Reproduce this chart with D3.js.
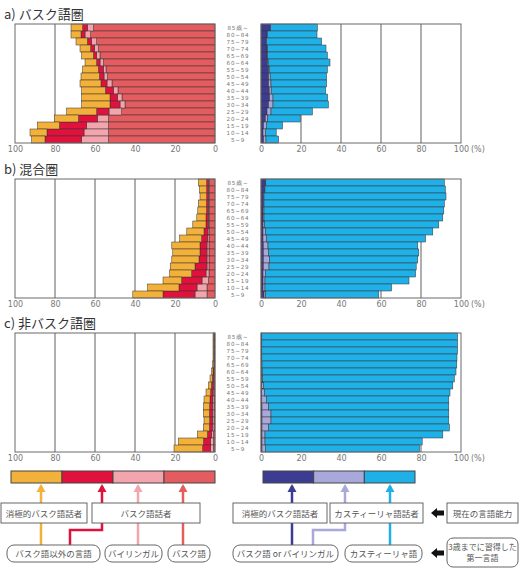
<!DOCTYPE html>
<html>
<head>
<meta charset="utf-8">
<script src="https://cdnjs.cloudflare.com/ajax/libs/d3/7.8.5/d3.min.js"></script>
<style>
  body { margin: 0; background: #fff; }
  svg { font-family: "Noto Sans CJK JP", "Noto Sans", sans-serif; }
</style>
</head>
<body>
<div id="chart"></div>
<script>
// age groups, top row first
var ages = ["85歳~", "80~84", "75~79", "70~74", "65~69", "60~64", "55~59", "50~54",
  "45~49", "40~44", "35~39", "30~34", "25~29", "20~24", "15~19", "10~14", "5~9"];

var titles = ["a) バスク語圏", "b) 混合圏", "c) 非バスク語圏"];

// left side (%), segments from 0 outwards: basque, bilingual, other language, passive
var aBasque    = [60.8, 62.2, 59.2, 58.3, 57.5, 55.8, 54.5, 53.8, 51.5, 48.5, 46.5, 45.0, 46.7, 53.3, 53.3, 53.3, 53.3];
var aBilingual = [3.0, 2.8, 2.5, 2.0, 1.7, 1.7, 1.3, 1.7, 2.5, 2.3, 2.3, 2.5, 6.3, 5.5, 10.9, 12.2, 13.4];
var aOther     = [2.4, 2.0, 2.1, 1.9, 1.6, 1.7, 2.5, 2.3, 3.0, 4.0, 3.7, 5.0, 6.2, 9.5, 13.6, 18.5, 18.3];
var aPassive   = [5.8, 5.0, 5.7, 5.3, 5.9, 5.8, 7.9, 9.2, 10.5, 11.9, 14.2, 14.2, 15.0, 12.0, 11.0, 8.5, 6.7];

var bBasque    = [2.8, 2.8, 2.8, 2.8, 2.8, 2.8, 2.8, 2.8, 3.0, 3.0, 3.0, 3.0, 3.0, 3.0, 3.3, 4.0, 4.0];
var bBilingual = [0.5, 0.5, 0.5, 0.5, 0.5, 0.5, 0.5, 0.7, 0.7, 1.0, 1.0, 1.0, 1.0, 1.5, 3.2, 5.0, 6.0];
var bOther     = [0.9, 0.9, 0.9, 1.0, 1.0, 1.2, 1.2, 2.0, 3.0, 3.5, 3.5, 4.0, 6.0, 7.2, 10.2, 9.0, 16.0];
var bPassive   = [4.1, 3.6, 3.3, 4.0, 4.3, 4.6, 6.6, 8.6, 11.0, 14.1, 13.6, 13.6, 12.4, 11.0, 9.3, 15.7, 15.1];

var cBasque    = [0.3, 0.3, 0.3, 0.3, 0.3, 0.4, 0.4, 0.5, 0.5, 0.5, 0.5, 0.5, 0.5, 0.5, 0.8, 0.8, 0.8];
var cBilingual = [0.1, 0.1, 0.1, 0.1, 0.1, 0.2, 0.3, 0.4, 0.5, 0.7, 0.8, 0.8, 0.8, 0.8, 0.9, 1.4, 1.4];
var cOther     = [0.2, 0.2, 0.2, 0.2, 0.2, 0.4, 0.6, 0.9, 1.2, 1.3, 1.4, 1.5, 1.4, 1.5, 2.1, 3.6, 4.0];
var cPassive   = [0.4, 0.4, 0.4, 0.4, 0.6, 0.7, 1.2, 1.5, 2.3, 3.0, 3.1, 3.0, 2.8, 3.0, 5.0, 12.5, 14.3];

// right side (%): passive speaker (basque/bilingual 1st), castilian speaker (basque/bilingual 1st), castilian
var aPassiveBq = [4.6, 3.0, 2.6, 3.0, 3.0, 3.3, 3.8, 3.8, 3.8, 4.1, 4.3, 3.8, 3.0, 2.2, 1.3, 1.0, 1.3];
var aCastBq    = [0.2, 0.2, 0.2, 0.3, 0.3, 0.3, 0.3, 0.8, 1.2, 1.0, 1.7, 2.2, 2.0, 1.1, 1.4, 1.2, 1.2];
var aCastilian = [23.4, 24.8, 27.5, 29.2, 29.9, 30.9, 29.1, 28.2, 27.8, 27.2, 27.3, 27.7, 20.7, 16.3, 8.1, 5.4, 6.3];

var bPassiveBq = [2.2, 1.8, 1.2, 1.2, 1.0, 1.0, 1.0, 1.0, 1.0, 1.2, 1.2, 1.2, 1.2, 1.0, 1.0, 1.0, 1.5];
var bCastBq    = [0.2, 0.2, 0.3, 0.3, 0.5, 0.5, 0.8, 1.2, 1.8, 2.3, 2.6, 3.1, 2.8, 1.2, 1.0, 1.0, 0.8];
var bCastilian = [89.3, 90.2, 91.0, 90.2, 89.9, 89.4, 87.1, 83.7, 79.5, 74.9, 75.1, 74.1, 73.6, 75.1, 72.0, 63.3, 56.6];

var cPassiveBq = [0.3, 0.3, 0.3, 0.3, 0.3, 0.3, 0.3, 0.4, 0.4, 0.4, 0.5, 0.5, 0.5, 0.5, 0.5, 0.5, 0.5];
var cCastBq    = [0.1, 0.1, 0.1, 0.1, 0.2, 0.3, 0.5, 0.8, 1.3, 2.3, 3.3, 4.5, 4.5, 3.3, 1.5, 1.5, 1.7];
var cCastilian = [97.9, 97.9, 97.9, 97.6, 97.4, 96.9, 95.9, 94.7, 92.8, 91.2, 90.1, 88.9, 88.9, 90.4, 88.9, 78.6, 77.1];

var tickVals = [0, 20, 40, 60, 80, 100];

var leftKeys = ["basque", "bilingual", "other", "passive"];
var rightKeys = ["passiveBq", "castBq", "castilian"];

var colors = {
  passive: "#f2b13a",
  other: "#e0123d",
  bilingual: "#f2a5ad",
  basque: "#e35c5f",
  passiveBq: "#3d3c93",
  castBq: "#a9a8db",
  castilian: "#1fb0e8"
};

var leftData = [
  [aBasque, aBilingual, aOther, aPassive],
  [bBasque, bBilingual, bOther, bPassive],
  [cBasque, cBilingual, cOther, cPassive]
];
var rightData = [
  [aPassiveBq, aCastBq, aCastilian],
  [bPassiveBq, bCastBq, bCastilian],
  [cPassiveBq, cCastBq, cCastilian]
];

var svgWidth = 521;
var svgHeight = 570;

var svg = d3.select("#chart").append("svg")
  .attr("width", svgWidth)
  .attr("height", svgHeight);

// scales
var xLeft = d3.scaleLinear().domain([0, 100]).range([215, 15]);
var xRight = d3.scaleLinear().domain([0, 100]).range([261, 461]);

var panelTops = [24, 179, 333];
var panelH = 119;

function toRows(arrays, keys) {
  return ages.map(function(age, i) {
    var row = { age: age };
    keys.forEach(function(k, j) { row[k] = arrays[j][i]; });
    return row;
  });
}

function drawSide(g, x, y, arrays, keys, isLeft) {
  var top = y.range()[0];
  var bottom = y.range()[1];

  // grid lines
  g.append("g").selectAll("line")
    .data([20, 40, 60, 80])
    .enter()
    .append("line")
    .attr("x1", d => x(d))
    .attr("x2", d => x(d))
    .attr("y1", top)
    .attr("y2", bottom)
    .attr("stroke", "#7a7a7a")
    .attr("stroke-width", 1.2);

  var series = d3.stack().keys(keys)(toRows(arrays, keys));

  g.append("g").selectAll("g")
    .data(series)
    .enter()
    .append("g")
    .attr("fill", d => colors[d.key])
    .selectAll("rect")
    .data(d => d)
    .enter()
    .append("rect")
    .attr("x", d => Math.min(x(d[0]), x(d[1])))
    .attr("width", d => Math.abs(x(d[1]) - x(d[0])))
    .attr("y", d => y(d.data.age))
    .attr("height", y.bandwidth())
    .attr("stroke", "#3a3030")
    .attr("stroke-width", 0.5);

  // frame
  g.append("rect")
    .attr("x", Math.min(x(0), x(100)))
    .attr("y", top)
    .attr("width", Math.abs(x(100) - x(0)))
    .attr("height", bottom - top)
    .attr("fill", "none")
    .attr("stroke", "#6a6a6a")
    .attr("stroke-width", 1);

  // bottom axis
  var axis = g.append("g")
    .attr("transform", `translate(0, ${bottom})`)
    .call(d3.axisBottom(x).tickValues(tickVals).tickSize(0).tickPadding(3));
  axis.select(".domain").remove();
  axis.selectAll("text")
    .attr("fill", "#777")
    .style("font-family", "'DejaVu Sans', sans-serif")
    .style("font-size", "8px");

  if (!isLeft) {
    g.append("text")
      .attr("x", x(100) + 10)
      .attr("y", bottom + 3)
      .attr("dy", "0.71em")
      .attr("fill", "#777")
      .style("font-family", "'DejaVu Sans', sans-serif")
      .style("font-size", "8px")
      .text("(%)");
  }
}

panelTops.forEach(function(top, i) {
  var chartGroup = svg.append("g");

  var y = d3.scaleBand()
    .domain(ages)
    .range([top, top + panelH]);

  chartGroup.append("text")
    .attr("x", 4)
    .attr("y", top - 5)
    .attr("fill", "#333")
    .style("font-size", "13px")
    .text(titles[i]);

  drawSide(chartGroup, xLeft, y, leftData[i], leftKeys, true);
  drawSide(chartGroup, xRight, y, rightData[i], rightKeys, false);

  // age labels between the two sides
  chartGroup.append("g").selectAll("text")
    .data(ages)
    .enter()
    .append("text")
    .attr("x", 238)
    .attr("y", d => y(d) + y.bandwidth() / 2 + 2.2)
    .attr("text-anchor", "middle")
    .attr("fill", "#777")
    .style("font-family", "'DejaVu Sans', sans-serif")
    .style("font-size", "5.6px")
    .style("letter-spacing", "0.8px")
    .text(d => d);
});

// ---- legend ----
var legend = svg.append("g");

var leftBar = d3.scaleBand().domain(["passive", "other", "bilingual", "basque"]).range([11, 215]);
var rightBar = d3.scaleBand().domain(["passiveBq", "castBq", "castilian"]).range([263, 415]);

function arrowLine(points, color) {
  legend.append("path")
    .attr("d", d3.line()(points))
    .attr("fill", "none")
    .attr("stroke", color)
    .attr("stroke-width", 2.5);
  var tip = points[points.length - 1];
  legend.append("path")
    .attr("d", `M${tip[0]},${tip[1] - 2} L${tip[0] - 4.5},${tip[1] + 6} L${tip[0] + 4.5},${tip[1] + 6} Z`)
    .attr("fill", color);
}

arrowLine([[41, 546], [41, 486]], colors.passive);
arrowLine([[70, 546], [70, 530], [102, 530], [102, 486]], colors.other);
arrowLine([[138, 546], [138, 486]], colors.bilingual);
arrowLine([[183, 546], [183, 486]], colors.basque);
arrowLine([[292, 546], [292, 486]], colors.passiveBq);
arrowLine([[313, 546], [313, 530], [345, 530], [345, 486]], colors.castBq);
arrowLine([[390, 546], [390, 486]], colors.castilian);

[[leftBar, ["passive", "other", "bilingual", "basque"]], [rightBar, ["passiveBq", "castBq", "castilian"]]]
  .forEach(function(b) {
    legend.append("g").selectAll("rect")
      .data(b[1])
      .enter()
      .append("rect")
      .attr("x", d => b[0](d))
      .attr("width", b[0].bandwidth())
      .attr("y", 471)
      .attr("height", 12)
      .attr("fill", d => colors[d])
      .attr("stroke", "#444")
      .attr("stroke-width", 1);
  });

var topBoxes = [
  { x: 1, w: 86, t: "消極的バスク語話者" },
  { x: 92, w: 108, t: "バスク語話者" },
  { x: 233, w: 94, t: "消極的バスク語話者" },
  { x: 330, w: 93, t: "カスティーリャ語話者" },
  { x: 447, w: 71, t: "現在の言語能力" }
];
var bottomBoxes = [
  { x: 7, w: 93, t: "バスク語以外の言語" },
  { x: 105, w: 57, t: "バイリンガル" },
  { x: 168, w: 42, t: "バスク語" },
  { x: 233, w: 105, t: "バスク語 or バイリンガル" },
  { x: 345, w: 77, t: "カスティーリャ語" }
];

topBoxes.forEach(function(b) {
  legend.append("rect")
    .attr("x", b.x).attr("y", 503)
    .attr("width", b.w).attr("height", 20)
    .attr("fill", "#fff")
    .attr("stroke", "#666")
    .attr("stroke-width", 1);
  legend.append("text")
    .attr("x", b.x + b.w / 2).attr("y", 516.5)
    .attr("text-anchor", "middle")
    .attr("fill", "#555")
    .style("font-size", "8.5px")
    .text(b.t);
});

bottomBoxes.forEach(function(b) {
  legend.append("rect")
    .attr("x", b.x).attr("y", 545)
    .attr("width", b.w).attr("height", 17)
    .attr("rx", 7).attr("ry", 7)
    .attr("fill", "#fff")
    .attr("stroke", "#666")
    .attr("stroke-width", 1);
  legend.append("text")
    .attr("x", b.x + b.w / 2).attr("y", 556.5)
    .attr("text-anchor", "middle")
    .attr("fill", "#555")
    .style("font-size", "8.5px")
    .text(b.t);
});

// first language box (two lines)
legend.append("rect")
  .attr("x", 447).attr("y", 538)
  .attr("width", 71).attr("height", 29)
  .attr("rx", 6).attr("ry", 6)
  .attr("fill", "#fff")
  .attr("stroke", "#666");
legend.append("text")
  .attr("x", 482.5).attr("y", 550)
  .attr("text-anchor", "middle")
  .attr("fill", "#555")
  .style("font-size", "8px")
  .text("3歳までに習得した");
legend.append("text")
  .attr("x", 482.5).attr("y", 561)
  .attr("text-anchor", "middle")
  .attr("fill", "#555")
  .style("font-size", "8px")
  .text("第一言語");

// black block arrows
[513, 553].forEach(function(cy) {
  legend.append("path")
    .attr("d", `M431,${cy} L437,${cy - 5} L437,${cy - 2.5} L444,${cy - 2.5} L444,${cy + 2.5} L437,${cy + 2.5} L437,${cy + 5} Z`)
    .attr("fill", "#111");
});
</script>
</body>
</html>
